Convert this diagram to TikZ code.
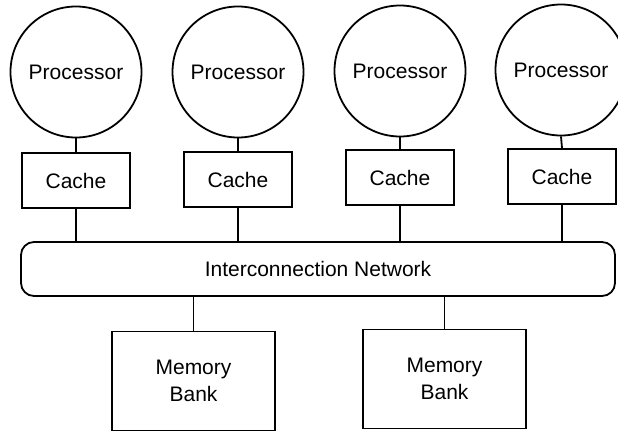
\documentclass[tikz,border=0pt]{standalone}
\usepackage{fontspec}
\setmainfont{Liberation Sans}
\begin{document}
\begin{tikzpicture}[x=1pt,y=-1pt,
  every node/.style={font=\fontsize{21}{27}\selectfont, inner sep=0pt},
  proc/.style={circle, draw, line width=1.8pt, minimum size=131pt},
  cachebox/.style={rectangle, draw, line width=1.8pt, minimum width=108pt, minimum height=55pt},
  netbox/.style={rectangle, rounded corners=13pt, draw, line width=1.8pt, minimum width=594pt, minimum height=54pt},
  membox/.style={rectangle, draw, line width=1.8pt, minimum width=163pt, minimum height=99pt, align=center},
  wire/.style={line width=1.8pt}]
\useasboundingbox (0,0) rectangle (618,431);
\clip (0,0) rectangle (618,431);
\node[proc] (p1) at (76,72) {Processor};
\node[proc] (p2) at (238,72) {Processor};
\node[proc] (p3) at (400,71) {Processor};
\node[proc] (p4) at (561,70) {Processor};
\node[cachebox] (c1) at (76,180.5) {Cache};
\node[cachebox] (c2) at (238,179.5) {Cache};
\node[cachebox] (c3) at (400,177.5) {Cache};
\node[cachebox] (c4) at (562,176.5) {Cache};
\node[netbox] (net) at (318,269) {Interconnection Network};
\node[membox] (m1) at (193.5,381) {Memory\\Bank};
\node[membox] (m2) at (444.5,379) {Memory\\Bank};
\foreach \i in {1,2,3,4}{
  \draw[wire] (p\i.south) -- (c\i.north);
  \draw[wire] (c\i.south) -- (c\i.south |- net.north);
}
\draw[wire] (m1.north |- net.south) -- (m1.north);
\draw[wire] (m2.north |- net.south) -- (m2.north);
\end{tikzpicture}
\end{document}
